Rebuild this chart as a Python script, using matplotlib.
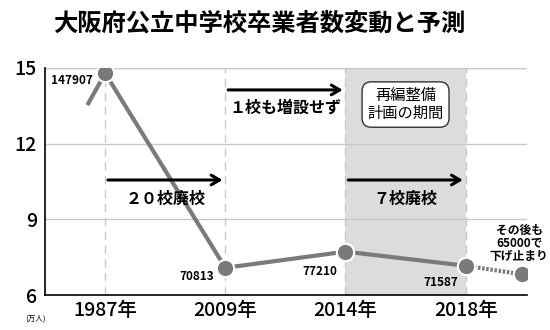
import matplotlib.pyplot as plt

plt.rcParams['font.family'] = ['Noto Sans CJK JP', 'DejaVu Sans']

title = "大阪府公立中学校卒業者数変動と予測"
years = ["1987年", "2009年", "2014年", "2018年"]
year_pos = [0, 1, 2, 3]
# actual values (万人)
grads = [14.79, 7.08, 7.72, 7.16]
grad_labels = ["147907", "70813", "77210", "71587"]
# line coming in from before 1987
lead_pos = [-0.14, 0]
lead_vals = [13.6, 14.79]
# forecast
fc_pos = [3, 3.47]
fc_vals = [7.16, 6.82]
yticks = [6, 9, 12, 15]

line_c = '#7a7a7a'

fig = plt.figure(figsize=(5.5, 3.3), dpi=100)
ax = fig.add_axes([0.082, 0.106, 0.876, 0.688])

ax.set_xlim(-0.5, 3.51)
ax.set_ylim(6, 15)

# shaded period 2014-2018
ax.axvspan(year_pos[2], year_pos[3], color='#dcdcdc', zorder=0, lw=0)

for y in yticks[1:]:
    ax.axhline(y, color='#c8c8c8', lw=1, zorder=1)
for x in year_pos:
    ax.axvline(x, color='#c8c8c8', lw=1, ls=(0, (6, 4)), zorder=1)

ax.plot(lead_pos, lead_vals, color=line_c, lw=3, zorder=3)
ax.plot(year_pos, grads, color=line_c, lw=3, zorder=3)
ax.plot(fc_pos, fc_vals, color=line_c, lw=3, ls=(0, (0.6, 0.4)), zorder=3)
ax.plot(year_pos + fc_pos[1:], grads + fc_vals[1:], 'o', ms=12.5, color=line_c,
        mec='white', mew=1.5, zorder=4)

# value labels
offsets = [(-0.28, -0.27), (-0.24, -0.35), (-0.21, -0.8), (-0.21, -0.65)]
for x, v, lab, (dx, dy) in zip(year_pos, grads, grad_labels, offsets):
    ax.text(x + dx, v + dy, lab, fontsize=8.5, fontweight='bold', ha='center',
            va='center', zorder=5)

ax.text(3.445, 8.05, "その後も\n65000で\n下げ止まり", fontsize=8.5, fontweight='bold',
        ha='center', va='center', linespacing=1.0, zorder=5)

# arrows
arr = dict(arrowstyle='->,head_length=0.6,head_width=0.35', color='black', lw=2.2)
ax.annotate('', xy=(2, 14.13), xytext=(1, 14.13), arrowprops=arr, zorder=5)
ax.annotate('', xy=(1, 10.56), xytext=(0, 10.56), arrowprops=arr, zorder=5)
ax.annotate('', xy=(3, 10.56), xytext=(2, 10.56), arrowprops=arr, zorder=5)
ax.text(0.5, 9.8, "２０校廃校", fontsize=11.5, fontweight='bold', ha='center', va='center', zorder=5)
ax.text(2.5, 9.8, "７校廃校", fontsize=11.5, fontweight='bold', ha='center', va='center', zorder=5)
ax.text(1.5, 13.45, "１校も増設せず", fontsize=11.5, fontweight='bold', ha='center', va='center', zorder=5)

ax.text(2.5, 13.55, "再編整備\n計画の期間", fontsize=11, ha='center', va='center',
        linespacing=1.05, zorder=6,
        bbox=dict(boxstyle='round,pad=0.35,rounding_size=0.6', fc='white', ec='#333333', lw=1))

ax.set_yticks(yticks)
ax.set_yticklabels([str(t) for t in yticks], fontsize=14, fontweight='medium')
ax.set_xticks(year_pos)
ax.set_xticklabels(years, fontsize=14, fontweight='medium')
ax.tick_params(length=0, pad=4)
ax.tick_params(axis='y', pad=6)

for s in ['top', 'right']:
    ax.spines[s].set_visible(False)
ax.spines['left'].set_linewidth(1.2)
ax.spines['bottom'].set_linewidth(1.2)
ax.axhline(15, color='#c8c8c8', lw=1, zorder=1)

fig.text(0.471, 0.93, title, fontsize=17.5, fontweight='bold', ha='center', va='center')
fig.text(0.065, 0.035, "(万人)", fontsize=5.5, ha='center', va='center')

fig.savefig('out.png', dpi=100)
